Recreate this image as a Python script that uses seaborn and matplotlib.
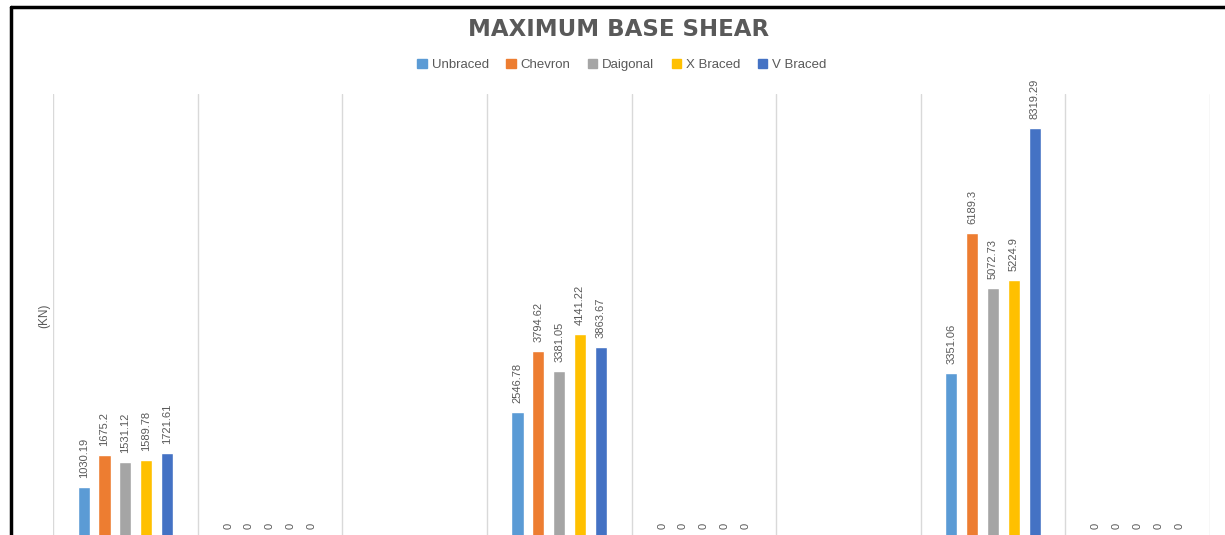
import numpy as np
import pandas as pd
import matplotlib
matplotlib.use("Agg")
import matplotlib.pyplot as plt
import seaborn as sns

# categories (x labels are cut off in the source picture)
categories = ["C1", "C2", "C3", "C4", "C5", "C6", "C7", "C8"]
series = ["Unbraced", "Chevron", "Daigonal", "X Braced", "V Braced"]
colors = ["#5B9BD5", "#ED7D31", "#A5A5A5", "#FFC000", "#4472C4"]

# only categories that hold values (C3 and C6 are empty)
used_cats = ["C1", "C2", "C4", "C5", "C7", "C8"]
unbraced = [1030.19, 0, 2546.78, 0, 3351.06, 0]
chevron = [1675.2, 0, 3794.62, 0, 6189.3, 0]
daigonal = [1531.12, 0, 3381.05, 0, 5072.73, 0]
x_braced = [1589.78, 0, 4141.22, 0, 5224.9, 0]
v_braced = [1721.61, 0, 3863.67, 0, 8319.29, 0]

rows = []
for name, vals in zip(series, [unbraced, chevron, daigonal, x_braced, v_braced]):
    for c, v in zip(used_cats, vals):
        rows.append({"cat": c, "series": name, "value": v})
df = pd.DataFrame(rows)

sns.set_style("white")
plt.rcParams["font.family"] = ["Liberation Sans", "DejaVu Sans"]

fig = plt.figure(figsize=(12.25, 5.35), dpi=100)
ax = fig.add_axes([53 / 1225, (535 - 538) / 535, (1210 - 53) / 1225, (538 - 94) / 535])

sns.barplot(data=df, x="cat", y="value", hue="series", order=categories,
            hue_order=series, palette=colors, saturation=1, errorbar=None,
            width=0.72, gap=0.42, legend=False, ax=ax)

for cont in ax.containers:
    labels = [("%g" % b.get_height()) for b in cont]
    ax.bar_label(cont, labels=labels, rotation=90, padding=6.5,
                 fontsize=8, color="#595959")

ax.set_ylim(0, 9000)
ax.set_xlim(-0.5, len(categories) - 0.5)
ax.set_xticks(np.arange(-0.5, len(categories), 1), minor=True)
ax.set_xticks([])
ax.set_yticks([])
ax.grid(which="minor", axis="x", color="#D9D9D9", linewidth=1)
ax.tick_params(which="both", length=0)
for s in ax.spines.values():
    s.set_visible(False)
ax.set_xlabel("")
ax.set_ylabel("(KN)", fontsize=8.5, color="#595959", labelpad=2)

fig.text(619 / 1225, 1 - 30 / 535, "MAXIMUM BASE SHEAR", ha="center", va="center",
         fontsize=16.5, fontweight="bold", color="#595959",
         family=["DejaVu Sans"])

handles = [plt.Rectangle((0, 0), 1, 1, color=c) for c in colors]
fig.legend(handles, series, loc="center", bbox_to_anchor=(622 / 1225, 1 - 65 / 535),
           ncol=5, frameon=False, fontsize=9.5, labelcolor="#595959",
           handlelength=0.7, handleheight=0.7, handletextpad=0.4, columnspacing=1.3)

# outer frame (top and left edges visible in the crop)
fig.add_artist(plt.Line2D([11 / 1225, 1], [1 - 7 / 535, 1 - 7 / 535], color="black",
                          linewidth=2.5, transform=fig.transFigure))
fig.add_artist(plt.Line2D([11 / 1225, 11 / 1225], [0, 1 - 7 / 535], color="black",
                          linewidth=2.5, transform=fig.transFigure))

fig.savefig("out.png", dpi=100)
